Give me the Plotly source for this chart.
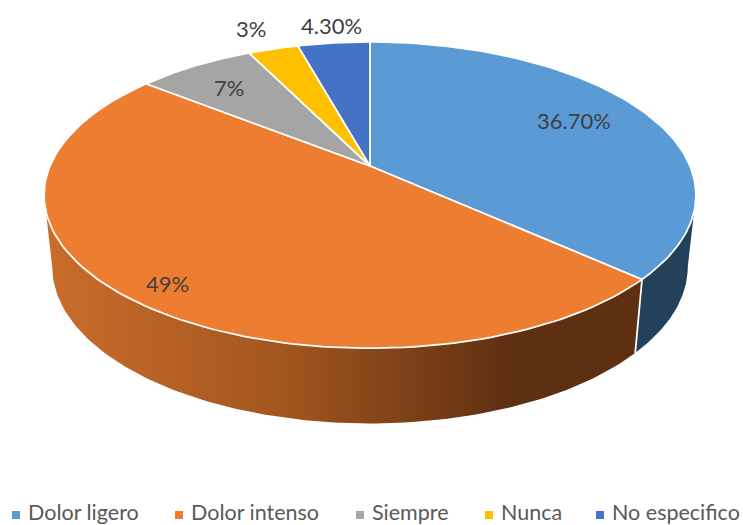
import numpy as np
import plotly.graph_objects as go

categories = ["Dolor ligero", "Dolor intenso", "Siempre", "Nunca", "No especifico"]
values = [36.7, 49, 7, 3, 4.3]
labels = ["36.70%", "49%", "7%", "3%", "4.30%"]
colors = ["#5B9BD5", "#ED7D31", "#A5A5A5", "#FFC000", "#4472C4"]

# label centres, in page pixels
label_x = [574, 167, 229, 251, 331]
label_y = [120, 283, 87, 28, 25]

# legend row, in page pixels
legend_marker_x = [16, 179, 360, 489, 600]
legend_text_x = [26, 189, 370, 499, 610]
LEGEND_Y = 512

# perspective of the pie: top disc and bottom disc
CX = 370
K = 0.19
TOP = dict(cy=166, a=320, b=147.6)
BOTTOM = dict(cy=237, a=312, b=151)


def rim(disc, start, end, n=120):
    theta = np.radians(np.linspace(start, end, n))
    w = 1 + K * np.cos(theta)
    return CX + disc["a"] * np.sin(theta) / w, disc["cy"] - disc["b"] * np.cos(theta) / w


fig = go.Figure()

edges = np.cumsum([0] + values) * 3.6
limit_right = np.degrees(np.arccos(-K))
limit_left = 360 - limit_right

# side walls: only the first two slices are seen from the front
wall_ranges = [(limit_right, edges[1]), (edges[1], limit_left)]
wall_fills = [
    dict(fillcolor="#234158"),
    dict(fillgradient=dict(type="horizontal",
                           colorscale=[[0, "#CB6D2B"], [0.4, "#A2561F"], [0.78, "#5F2F11"], [1, "#5F2F11"]])),
]
for (start, end), fill in zip(wall_ranges, wall_fills):
    x1, y1 = rim(TOP, start, end)
    x2, y2 = rim(BOTTOM, end, start)
    fig.add_trace(go.Scatter(
        x=np.concatenate([x1, x2]), y=np.concatenate([y1, y2]),
        mode="lines", fill="toself", line=dict(width=0),
        hoverinfo="skip", **fill
    ))

# white line between the two walls
x1, y1 = rim(TOP, edges[1], edges[1], 1)
x2, y2 = rim(BOTTOM, edges[1], edges[1], 1)
fig.add_trace(go.Scatter(
    x=[x1[0], x2[0]], y=[y1[0], y2[0]], mode="lines",
    line=dict(color="white", width=1.75), hoverinfo="skip"
))

# top face
for i, name in enumerate(categories):
    x, y = rim(TOP, edges[i], edges[i + 1])
    fig.add_trace(go.Scatter(
        x=np.concatenate([[CX], x, [CX]]), y=np.concatenate([[TOP["cy"]], y, [TOP["cy"]]]),
        mode="lines", fill="toself", fillcolor=colors[i],
        line=dict(color="white", width=1.75),
        name=name, text=labels[i], hoverinfo="name+text"
    ))

for x, y, t in zip(label_x, label_y, labels):
    fig.add_annotation(x=x, y=y, text=t, showarrow=False,
                       font=dict(family="Lato", size=22, color="#404040"))

# legend drawn by hand: plotly's own legend wraps and pushes the plot at this width
fig.add_trace(go.Scatter(
    x=legend_marker_x, y=[515] * len(categories), mode="markers",
    marker=dict(symbol="square", size=8, color=colors), hoverinfo="skip", cliponaxis=False
))
for x, name in zip(legend_text_x, categories):
    fig.add_annotation(x=x, y=LEGEND_Y, text=name, showarrow=False, xanchor="left",
                       font=dict(family="Lato", size=21.5, color="#595959"))

fig.update_layout(
    width=743, height=525,
    margin=dict(l=0, r=0, t=0, b=0),
    paper_bgcolor="white", plot_bgcolor="white",
    showlegend=False,
    xaxis=dict(range=[0, 743], visible=False, fixedrange=True),
    yaxis=dict(range=[525, 0], visible=False, fixedrange=True),
)

# the page body has an 8px margin by default, drop it so the figure fills the window
fig.write_html("out.html", config=dict(displayModeBar=False),
               post_script="document.body.style.margin = '0';")
